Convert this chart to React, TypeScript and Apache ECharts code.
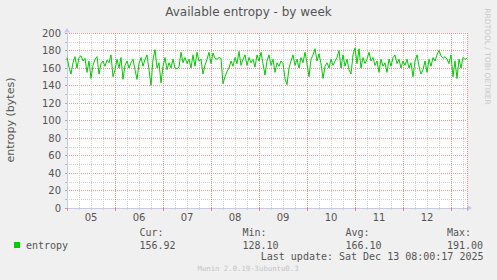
import React, { useEffect, useRef } from "react";
import * as echarts from "echarts";

const chartTitle = "Available entropy - by week";
const yTitle = "entropy (bytes)";
const seriesName = "entropy";
const dayLabels = ["05", "06", "07", "08", "09", "10", "11", "12"];
const labelHours = [12, 36, 60, 84, 108, 132, 156, 180];
const startHour = 0;
const stepHours = 1;
const entropy = [
  172, 161, 153, 166, 173, 160, 172, 174, 168, 171,
  155, 168, 148, 163, 170, 173, 153, 165, 168, 162,
  169, 166, 175, 150, 158, 170, 160, 172, 147, 163,
  168, 160, 166, 170, 158, 147, 165, 172, 162, 170,
  175, 158, 140, 170, 181, 160, 166, 143, 162, 172,
  158, 166, 160, 170, 160, 159, 161, 178, 166, 172,
  165, 170, 160, 175, 162, 178, 168, 170, 153, 163,
  170, 178, 165, 177, 171, 170, 172, 171, 142, 150,
  156, 160, 168, 162, 172, 165, 179, 163, 170, 175,
  163, 172, 166, 170, 161, 175, 168, 178, 165, 152,
  168, 175, 163, 170, 155, 166, 162, 168, 165, 148,
  141, 160, 168, 175, 163, 170, 160, 172, 166, 178,
  165, 150, 170, 175, 182, 168, 176, 165, 148, 162,
  166, 160, 170, 163, 168, 172, 180, 160, 175, 162,
  170, 158, 153, 175, 183, 165, 182, 160, 172, 165,
  170, 178, 168, 172, 163, 168, 155, 170, 162, 166,
  155, 170, 162, 172, 175, 165, 170, 160, 168, 163,
  170, 160, 166, 150, 168, 175, 162, 153, 158, 168,
  155, 170, 162, 172, 168, 175, 180, 174, 171, 173,
  170, 165, 175, 150, 168, 148, 170, 160, 172, 170,
  171,
];
const statNames = ["Cur:", "Min:", "Avg:", "Max:"];
const statValues = ["156.92", "128.10", "166.10", "191.00"];
const lastUpdate = "Last update: Sat Dec 13 08:00:17 2025";
const footer = "Munin 2.0.19-3ubuntu0.3";
const watermark = "RRDTOOL / TOBI OETIKER";

const SANS = "DejaVu Sans";
const MONO = "DejaVu Sans Mono";
const GREEN = "#00cc00";
const AXIS = "#c4c8f4";
const MAJOR = "rgba(236,110,110,0.75)";
const MINOR = "#cfcfcf";

export default function App() {
  const ref = useRef<HTMLDivElement>(null);
  useEffect(() => {
    if (!ref.current) return;
    const chart = echarts.init(ref.current, undefined, { renderer: "svg" });
    const data = entropy.map((v, i) => [startHour + i * stepHours, v]);
    const statX = [139.5, 242.5, 345.5, 447];
    const graphics: any[] = [
      {
        type: "text",
        x: 10.5,
        y: 120,
        rotation: Math.PI / 2,
        style: {
          text: yTitle,
          font: `11px '${SANS}'`,
          fill: "#555",
          align: "center",
          verticalAlign: "middle",
        },
      },
      {
        type: "text",
        x: 487.5,
        y: 56.5,
        rotation: -Math.PI / 2,
        style: {
          text: watermark,
          font: `7.5px '${SANS}'`,
          fill: "#c8c8c8",
          align: "center",
          verticalAlign: "middle",
        },
      },
      {
        type: "rect",
        shape: { x: 14, y: 242, width: 6, height: 6 },
        style: { fill: GREEN },
      },
      {
        type: "text",
        x: 26,
        y: 245,
        style: {
          text: seriesName,
          font: `10px '${MONO}'`,
          fill: "#555",
          verticalAlign: "middle",
        },
      },
      {
        type: "text",
        x: 483.5,
        y: 256.7,
        style: {
          text: lastUpdate,
          font: `10px '${MONO}'`,
          fill: "#555",
          align: "right",
          verticalAlign: "middle",
        },
      },
      {
        type: "text",
        x: 197.5,
        y: 268.5,
        style: {
          text: footer,
          font: `7.3px '${MONO}'`,
          fill: "#c4c4c4",
          verticalAlign: "middle",
        },
      },
    ];
    statNames.forEach((n, i) => {
      graphics.push({
        type: "text",
        x: statX[i],
        y: 232.3,
        style: { text: n, font: `10px '${MONO}'`, fill: "#555", verticalAlign: "middle" },
      });
      graphics.push({
        type: "text",
        x: statX[i],
        y: 245,
        style: { text: statValues[i], font: `10px '${MONO}'`, fill: "#555", verticalAlign: "middle" },
      });
    });

    chart.setOption({
      animation: false,
      backgroundColor: "#f0f0f0",
      title: {
        text: chartTitle,
        left: "center",
        top: 6,
        padding: 0,
        textStyle: { fontFamily: SANS, fontSize: 12, fontWeight: "normal", color: "#555" },
      },
      grid: { left: 67, top: 33, width: 400, height: 175, backgroundColor: "#fff", show: true, borderWidth: 0 },
      xAxis: {
        type: "value",
        min: 0,
        max: 200,
        interval: 24,
        axisLine: {
          show: true,
          lineStyle: { color: AXIS, width: 1 },
          symbol: ["none", "arrow"],
          symbolSize: [5, 5],
          symbolOffset: [0, 5],
        },
        axisTick: { show: true, length: 3, lineStyle: { color: MAJOR } },
        minorTick: { show: true, splitNumber: 4, length: 2, lineStyle: { color: MINOR } },
        splitLine: { show: true, lineStyle: { color: MAJOR, type: [1, 1] } },
        minorSplitLine: { show: true, lineStyle: { color: MINOR, type: [1, 1] } },
        axisLabel: {
          customValues: labelHours,
          formatter: (v: number) => dayLabels[labelHours.indexOf(v)] ?? "",
          fontFamily: SANS,
          fontSize: 10,
          color: "#555",
          margin: 4,
        },
      },
      yAxis: {
        type: "value",
        min: 0,
        max: 200,
        interval: 20,
        axisLine: {
          show: true,
          lineStyle: { color: AXIS, width: 1 },
          symbol: ["none", "arrow"],
          symbolSize: [5, 5],
          symbolOffset: [0, 5],
        },
        axisTick: { show: true, length: 2, lineStyle: { color: "#aaa" } },
        minorTick: { show: true, splitNumber: 2, length: 2, lineStyle: { color: "#bbb" } },
        splitLine: { show: true, lineStyle: { color: MAJOR, type: [1, 1] } },
        minorSplitLine: { show: true, lineStyle: { color: MINOR, type: [1, 1] } },
        axisLabel: { fontFamily: SANS, fontSize: 10, color: "#555", margin: 6 },
      },
      series: [
        {
          type: "line",
          name: seriesName,
          data,
          showSymbol: false,
          symbol: "none",
          lineStyle: { color: GREEN, width: 1 },
          itemStyle: { color: GREEN },
          z: 5,
        },
      ],
      graphic: graphics,
    });
    return () => chart.dispose();
  }, []);
  return <div ref={ref} style={{ position: "fixed", left: 0, top: 0, width: 497, height: 280 }} />;
}
